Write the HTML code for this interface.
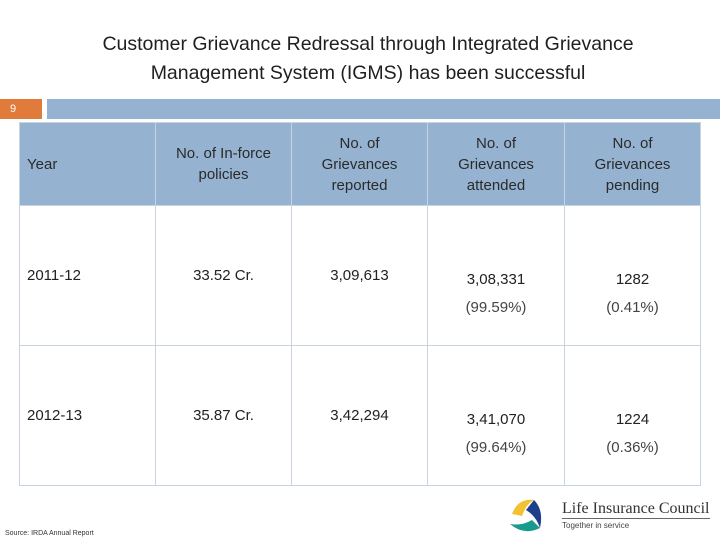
<!DOCTYPE html>
<html><head><meta charset="utf-8"><style>
body{margin:0;width:720px;height:540px;background:#fff;font-family:"Liberation Sans",sans-serif;position:relative;overflow:hidden}
.t{position:absolute;left:0;width:736px;text-align:center;top:30px;font-size:19.5px;line-height:29px;color:#1f1f1f}
table{position:absolute;left:19px;top:122px;border-collapse:collapse;table-layout:fixed}
td,th{border:1px solid #c8d3e0;font-size:15px;color:#222;font-weight:normal;padding:0;box-sizing:border-box}
th{background:#95b3d1;height:83px;line-height:21px;color:#2a2a2a}
td{height:140px;vertical-align:top;text-align:center}
</style></head><body>
<div class="t">Customer Grievance Redressal through Integrated Grievance<br>Management System (IGMS) has been successful</div>
<div style="position:absolute;left:0;top:99px;width:42px;height:20px;background:#e07b3c;color:#fff;font-size:11px;line-height:20px;padding-left:10px;box-sizing:border-box">9</div>
<div style="position:absolute;left:47px;top:99px;width:673px;height:20px;background:#95b3d1"></div>
<table>
<colgroup><col style="width:136px"><col style="width:136px"><col style="width:136px"><col style="width:137px"><col style="width:136px"></colgroup>
<tr>
<th style="text-align:left;padding-left:7px">Year</th><th>No. of In-force<br>policies</th><th>No. of<br>Grievances<br>reported</th><th>No. of<br>Grievances<br>attended</th><th>No. of<br>Grievances<br>pending</th></tr>
<tr>
<td style="text-align:left;padding-left:7px;padding-top:61px">2011-12</td><td style="padding-top:61px">33.52 Cr.</td><td style="padding-top:61px">3,09,613</td><td style="padding-top:60px;line-height:28px">3,08,331<br><span style="color:#444">(99.59%)</span></td><td style="padding-top:60px;line-height:28px">1282<br><span style="color:#444">(0.41%)</span></td></tr>
<tr>
<td style="text-align:left;padding-left:7px;padding-top:61px">2012-13</td><td style="padding-top:61px">35.87 Cr.</td><td style="padding-top:61px">3,42,294</td><td style="padding-top:60px;line-height:28px">3,41,070<br><span style="color:#444">(99.64%)</span></td><td style="padding-top:60px;line-height:28px">1224<br><span style="color:#444">(0.36%)</span></td></tr>
</table>
<div style="position:absolute;left:5px;top:530px;font-size:7px;color:#333">Source: IRDA Annual Report</div>
<svg style="position:absolute;left:504px;top:494px" width="44" height="42" viewBox="0 0 44 42">
<path d="M8 20 Q14 4 30 6 Q22 10 18 22 Z" fill="#f2c232"/>
<path d="M30 6 Q40 16 36 34 Q32 22 22 16 Z" fill="#1e3f8a"/>
<path d="M36 34 Q20 42 6 30 Q18 32 28 26 Z" fill="#1a9a8c"/>
</svg>
<div style="position:absolute;left:562px;top:500px;font-family:'Liberation Serif',serif;font-size:16px;color:#333;border-bottom:1px solid #666;line-height:18px">Life Insurance Council</div>
<div style="position:absolute;left:562px;top:521px;font-size:8px;color:#444">Together in service</div>
</body></html>
